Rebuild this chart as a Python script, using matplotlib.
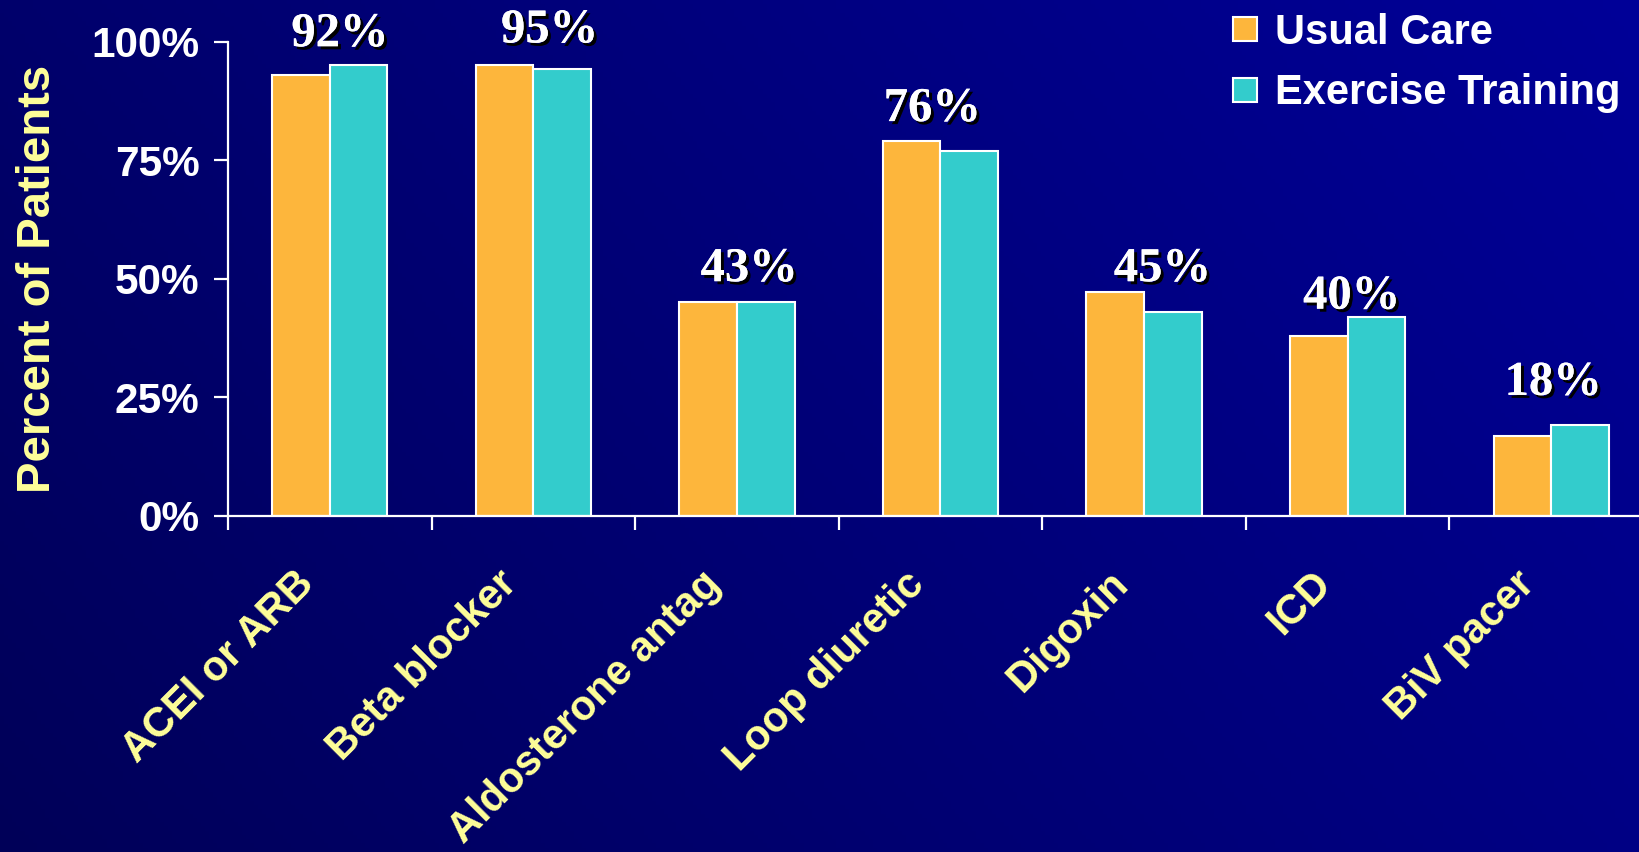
import numpy as np
import matplotlib
matplotlib.use("Agg")
import matplotlib.pyplot as plt
import matplotlib.patheffects as pe
import matplotlib.transforms as mtransforms
from matplotlib.lines import Line2D

CATEGORIES = ["ACEI or ARB", "Beta blocker", "Aldosterone antag",
              "Loop diuretic", "Digoxin", "ICD", "BiV pacer"]
USUAL_CARE = [92.9, 95.1, 45.0, 79.1, 47.2, 37.9, 16.8]
EXERCISE = [95.1, 94.3, 45.0, 77.0, 43.0, 42.0, 19.0]
OVERALL = [92, 95, 43, 76, 45, 40, 18]
Y_TICKS = [0, 25, 50, 75, 100]

ORANGE = "#FDB63C"
TEAL = "#33CCCC"
YELLOW = "#FFFF99"
SANS = "Liberation Sans"
SERIF = "Liberation Serif"

# where each overall label sits (x nudge in categories, y in percent)
LABEL_DX = [0.05, 0.08, 0.06, -0.04, 0.09, 0.02, 0.01]
LABEL_Y = [101.6, 102.4, 52.0, 85.8, 52.0, 46.2, 28.0]

fig = plt.figure(figsize=(16.4, 8.52), dpi=100)

# navy backdrop, a little brighter towards the upper right
bg = fig.add_axes([0, 0, 1, 1], zorder=-10)
gx, gy = np.meshgrid(np.linspace(0, 1, 400), np.linspace(0, 1, 200))
t = np.clip(0.7 * gx + 0.3 * (1 - gy), 0, 1)
dark = np.array([0, 0, 0x58]) / 255
bright = np.array([0, 0, 0x98]) / 255
img = dark[None, None, :] * (1 - t[..., None]) + bright[None, None, :] * t[..., None]
bg.imshow(img, aspect="auto", origin="upper", extent=[0, 1, 0, 1])
bg.set_axis_off()

ax = fig.add_axes([228 / 1640, 1 - 515.5 / 852, 1425 / 1640, 473.7 / 852])
ax.set_facecolor("none")

x = np.arange(len(CATEGORIES))
w = 0.283
ax.bar(x - w / 2, USUAL_CARE, w, color=ORANGE, edgecolor="white", linewidth=1.5,
       label="Usual Care")
ax.bar(x + w / 2, EXERCISE, w, color=TEAL, edgecolor="white", linewidth=1.5,
       label="Exercise Training")

shadow = [pe.withSimplePatchShadow(offset=(2.2, -2.2), shadow_rgbFace="black", alpha=1.0),
          pe.Normal()]
for i, v in enumerate(OVERALL):
    ax.text(x[i] + LABEL_DX[i], LABEL_Y[i], f"{v}%", ha="center", va="center",
            color="white", fontsize=35, fontweight="bold", family=SERIF,
            path_effects=shadow, clip_on=False)

ax.set_xlim(-0.5, len(CATEGORIES) - 0.5)
ax.set_ylim(0, 100)

for side in ["top", "right"]:
    ax.spines[side].set_visible(False)
for side in ["left", "bottom"]:
    ax.spines[side].set_color("white")
    ax.spines[side].set_linewidth(1.6)

ax.set_yticks(Y_TICKS)
ax.set_yticklabels([f"{v}%" for v in Y_TICKS], color="white", fontsize=30.5,
                   fontweight="bold", family=SANS)
ax.tick_params(axis="y", direction="out", length=10, width=1.6, color="white", pad=10.5)

ax.set_xticks(x)
ax.set_xticklabels(CATEGORIES, rotation=45, ha="right", va="center",
                   rotation_mode="anchor", color=YELLOW, fontsize=30,
                   fontweight="bold", family=SANS)
ax.tick_params(axis="x", which="major", length=0, pad=45)
shift = mtransforms.ScaledTranslation(-16 / 72, 0, fig.dpi_scale_trans)
for lbl in ax.get_xticklabels():
    lbl.set_transform(lbl.get_transform() + shift)
ax.set_xticks(np.arange(len(CATEGORIES) + 1) - 0.5, minor=True)
ax.tick_params(axis="x", which="minor", direction="out", length=10, width=1.6,
               color="white")

ax.set_ylabel("Percent of Patients", color=YELLOW, fontsize=34,
              fontweight="bold", family=SANS)
ax.yaxis.set_label_coords(-0.118, 0.5)

handles = [Line2D([], [], marker="s", linestyle="none", markersize=17,
                  markerfacecolor=c, markeredgecolor="white", markeredgewidth=1.5)
           for c in (ORANGE, TEAL)]
fig.legend(handles, ["Usual Care", "Exercise Training"], loc="upper left",
           bbox_to_anchor=(1210 / 1640, 1 + 4 / 852), frameon=False,
           handlelength=0.9, handletextpad=0.25, labelspacing=0.5,
           borderaxespad=0,
           prop={"family": SANS, "weight": "bold", "size": 30},
           labelcolor="white")

fig.savefig("out.png", dpi=100)
